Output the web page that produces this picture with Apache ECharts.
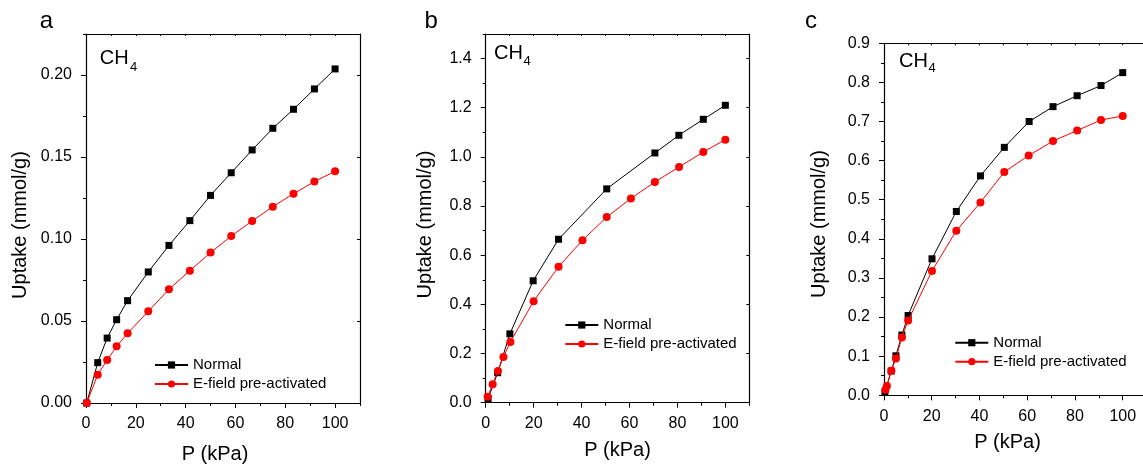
<!DOCTYPE html>
<html><head><meta charset="utf-8">
<script src="https://cdn.jsdelivr.net/npm/echarts@6/dist/echarts.min.js"></script>
<style>html,body{margin:0;padding:0;background:#fff}#c{width:1143px;height:468px}</style>
</head><body><div id="c"></div>
<script>
// ---- Panel a ----
const aPressure = [0.3, 4.7, 8.5, 12.3, 16.7, 25, 33.3, 41.7, 50, 58.3, 66.7, 75, 83.3, 91.7, 100];
const aNormal = [0, 0.0246, 0.0396, 0.0508, 0.0624, 0.0799, 0.0961, 0.1112, 0.1266, 0.1404, 0.1543, 0.1675, 0.1791, 0.1915, 0.2037];
const aEfield = [0, 0.0173, 0.0262, 0.0346, 0.0425, 0.0559, 0.0693, 0.0807, 0.0917, 0.1018, 0.1110, 0.1197, 0.1276, 0.1350, 0.1413];
// ---- Panel b ----
const bNormalP = [1.0, 5.0, 10.1, 19.8, 30.4, 50.5, 70.6, 80.6, 90.8, 100];
const bNormal = [0.017, 0.122, 0.280, 0.496, 0.665, 0.870, 1.016, 1.088, 1.153, 1.210];
const bEfieldP = [0.8, 2.9, 5.1, 7.4, 10.3, 20.0, 30.4, 40.4, 50.5, 60.6, 70.6, 80.7, 90.8, 100];
const bEfield = [0.024, 0.075, 0.129, 0.186, 0.247, 0.413, 0.553, 0.661, 0.755, 0.831, 0.898, 0.959, 1.020, 1.070];
// ---- Panel c ----
const cNormalP = [0.4, 3.0, 5.0, 7.5, 10.1, 20.1, 30.3, 40.4, 50.4, 60.8, 70.8, 80.9, 90.9, 100];
const cNormal = [0.008, 0.062, 0.101, 0.154, 0.204, 0.349, 0.470, 0.561, 0.634, 0.700, 0.738, 0.766, 0.792, 0.825];
const cEfieldP = [0.6, 1.2, 3.1, 5.0, 7.5, 10.1, 20.1, 30.3, 40.4, 50.4, 60.6, 70.8, 80.9, 90.9, 100];
const cEfield = [0.014, 0.024, 0.063, 0.094, 0.148, 0.191, 0.318, 0.421, 0.493, 0.571, 0.613, 0.650, 0.677, 0.704, 0.714];

const seriesNames = ['Normal', 'E-field pre-activated'];
const panelLetters = ['a', 'b', 'c'];
const xTitle = 'P (kPa)';
const yTitle = 'Uptake (mmol/g)';
const gasLabel = 'CH';
const gasSub = '4';

const FONT = '"Liberation Sans", Arial, Helvetica, sans-serif';
const zip = (xs, ys) => xs.map((x, i) => [x, ys[i]]);

const panels = [
  { grid: {left: 86, top: 34, width: 274, height: 369}, yMax: 0.225, yInt: 0.05, dec: 2, showMax: false,
    normal: zip(aPressure, aNormal), efield: zip(aPressure, aEfield),
    legend: {left: 154, top: 357},
    letter: [39.7, 21.6], ch: [99.7, 58.7], sub: [130, 67.2],
    yT: [20.5, 225], xT: [215, 454] },
  { grid: {left: 485.7, top: 34, width: 263.6, height: 368.7}, yMax: 1.5, yInt: 0.2, dec: 1, showMax: false,
    normal: zip(bNormalP, bNormal), efield: zip(bEfieldP, bEfield),
    legend: {left: 564.3, top: 317},
    letter: [424.5, 21.6], ch: [494, 53], sub: [523.5, 61.5],
    yT: [425.5, 224.5], xT: [617.5, 450.8] },
  { grid: {left: 884, top: 43.3, width: 262.6, height: 352}, yMax: 0.9, yInt: 0.1, dec: 1, showMax: true,
    normal: zip(cNormalP, cNormal), efield: zip(cEfieldP, cEfield),
    legend: {left: 954.3, top: 334.7},
    letter: [805, 21.6], ch: [899, 61], sub: [928.5, 68.5],
    yT: [819.5, 224], xT: [1007.5, 442] }
];

const axisLine = {show: true, onZero: false, lineStyle: {color: '#000', width: 1.2}};
const noLine = {show: false, onZero: false};
const tickStyle = {color: '#000', width: 1};
const noSplit = {show: false};

const grid = [], xAxis = [], yAxis = [], series = [], legend = [], graphic = [];

panels.forEach((p, i) => {
  grid.push(Object.assign({containLabel: false, outerBoundsMode: 'none'}, p.grid));
  // x axes: main bottom, minor bottom, top border
  xAxis.push({type: 'value', gridIndex: i, position: 'bottom', min: 0, max: 110, interval: 20,
    axisLine: axisLine, axisTick: {show: true, inside: false, length: 5, lineStyle: tickStyle},
    axisLabel: {show: true, fontSize: 16, color: '#000', fontFamily: FONT, margin: 13, showMaxLabel: false},
    splitLine: noSplit});
  xAxis.push({type: 'value', gridIndex: i, position: 'bottom', min: 0, max: 110, interval: 10,
    axisLine: noLine, axisTick: {show: true, inside: false, length: 3, lineStyle: tickStyle},
    axisLabel: {show: false}, splitLine: noSplit});
  xAxis.push({type: 'value', gridIndex: i, position: 'top', min: 0, max: 110, interval: 10,
    axisLine: axisLine, axisTick: {show: true, inside: true, length: 2, lineStyle: tickStyle},
    axisLabel: {show: false}, splitLine: noSplit});
  // y axes: main left, minor left, right border
  yAxis.push({type: 'value', gridIndex: i, position: 'left', min: 0, max: p.yMax, interval: p.yInt,
    axisLine: axisLine, axisTick: {show: true, inside: false, length: 5, lineStyle: tickStyle},
    axisLabel: {show: true, fontSize: 16, color: '#000', fontFamily: FONT, margin: 14,
      showMaxLabel: p.showMax, formatter: v => v.toFixed(p.dec)},
    splitLine: noSplit});
  yAxis.push({type: 'value', gridIndex: i, position: 'left', min: 0, max: p.yMax, interval: p.yInt / 2,
    axisLine: noLine, axisTick: {show: true, inside: false, length: 3, lineStyle: tickStyle},
    axisLabel: {show: false}, splitLine: noSplit});
  yAxis.push({type: 'value', gridIndex: i, position: 'right', min: 0, max: p.yMax, interval: p.yInt,
    axisLine: axisLine, axisTick: {show: true, inside: true, length: 3, lineStyle: tickStyle},
    axisLabel: {show: false}, splitLine: noSplit});

  series.push({name: seriesNames[0], type: 'line', xAxisIndex: 3 * i, yAxisIndex: 3 * i,
    data: p.normal, symbol: 'rect', symbolSize: 7, clip: false,
    lineStyle: {color: '#000', width: 1}, itemStyle: {color: '#000'}, z: 2});
  series.push({name: seriesNames[1], type: 'line', xAxisIndex: 3 * i, yAxisIndex: 3 * i,
    data: p.efield, symbol: 'circle', symbolSize: 8, clip: false,
    lineStyle: {color: '#ff0000', width: 1}, itemStyle: {color: '#ff0000'}, z: 3});

  legend.push({left: p.legend.left, top: p.legend.top, orient: 'vertical', padding: 0,
    itemWidth: 33, itemHeight: 9, itemGap: 3, selectedMode: false, data: seriesNames,
    textStyle: {fontSize: 15, color: '#000', fontFamily: FONT, lineHeight: 16}});

  graphic.push({type: 'text', x: p.letter[0], y: p.letter[1],
    style: {text: panelLetters[i], font: '24px ' + FONT, fill: '#000', textAlign: 'left', textVerticalAlign: 'middle'}});
  graphic.push({type: 'text', x: p.ch[0], y: p.ch[1],
    style: {text: gasLabel, font: '20px ' + FONT, fill: '#000', textAlign: 'left', textVerticalAlign: 'middle'}});
  graphic.push({type: 'text', x: p.sub[0], y: p.sub[1],
    style: {text: gasSub, font: '13px ' + FONT, fill: '#000', textAlign: 'left', textVerticalAlign: 'middle'}});
  graphic.push({type: 'text', x: p.yT[0], y: p.yT[1], rotation: Math.PI / 2,
    style: {text: yTitle, font: '20px ' + FONT, fill: '#000', textAlign: 'center', textVerticalAlign: 'middle'}});
  graphic.push({type: 'text', x: p.xT[0], y: p.xT[1],
    style: {text: xTitle, font: '20px ' + FONT, fill: '#000', textAlign: 'center', textVerticalAlign: 'middle'}});
});

const chart = echarts.init(document.getElementById('c'), null, {renderer: 'canvas'});
chart.setOption({animation: false, backgroundColor: '#fff', grid, xAxis, yAxis, series, legend, graphic});
</script></body></html>
